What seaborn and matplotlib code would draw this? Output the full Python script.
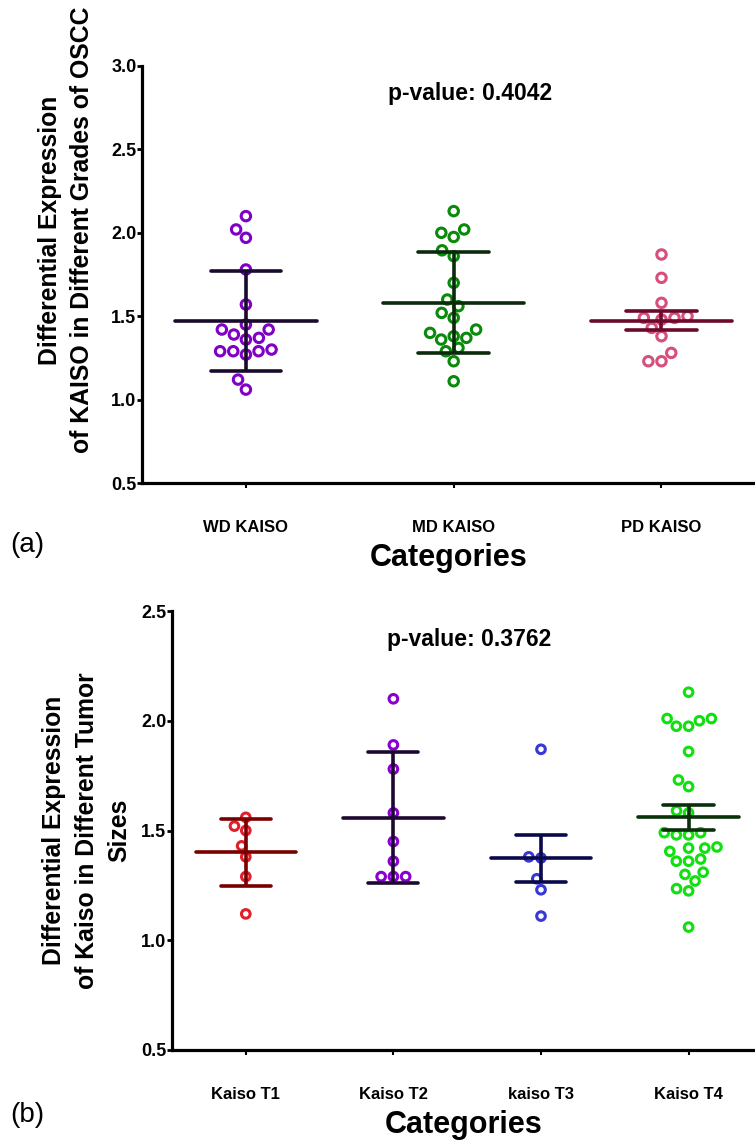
import numpy as np
import pandas as pd
import matplotlib
matplotlib.use("Agg")
import matplotlib.pyplot as plt
import seaborn as sns

sns.set_theme(style="ticks")
plt.rcParams['font.family'] = ['Liberation Sans', 'DejaVu Sans']
plt.rcParams.update({"text.color": "black", "axes.labelcolor": "black",
                     "xtick.color": "black", "ytick.color": "black"})

# ---------------- data: panel (a) grades ----------------
grade_cats = ["WD KAISO", "MD KAISO", "PD KAISO"]
wd_vals = [2.10, 2.02, 1.97, 1.78, 1.57, 1.45, 1.42, 1.42, 1.39, 1.36, 1.37,
           1.29, 1.29, 1.27, 1.29, 1.30, 1.12, 1.06]
md_vals = [2.13, 2.00, 1.975, 2.02, 1.895, 1.86, 1.70, 1.60, 1.56, 1.52, 1.49,
           1.42, 1.38, 1.36, 1.37, 1.40, 1.29, 1.31, 1.23, 1.11]
pd_vals = [1.87, 1.73, 1.58, 1.49, 1.49, 1.48, 1.50, 1.43, 1.38, 1.28, 1.23, 1.23]
grade_err = ["sd", "sd", "se"]
grade_p = "p-value: 0.4042"

# ---------------- data: panel (b) tumor sizes ----------------
size_cats = ["Kaiso T1", "Kaiso T2", "kaiso T3", "Kaiso T4"]
t1_vals = [1.56, 1.52, 1.50, 1.43, 1.38, 1.29, 1.12]
t2_vals = [2.10, 1.89, 1.78, 1.58, 1.45, 1.36, 1.29, 1.29, 1.29]
t3_vals = [1.87, 1.375, 1.38, 1.28, 1.23, 1.11]
t4_vals = [2.13, 2.01, 2.00, 1.975, 1.975, 2.01, 1.86, 1.73, 1.70, 1.59, 1.58,
           1.49, 1.48, 1.48, 1.49, 1.425, 1.405, 1.42, 1.42, 1.36, 1.37, 1.36,
           1.30, 1.31, 1.27, 1.235, 1.225, 1.06]
size_err = ["sd", "sd", "se", "se"]
size_p = "p-value: 0.3762"

# ---------------- styles ----------------
grade_colors = ["#8000C4", "#0A8A0A", "#D6507C"]
grade_line_colors = ["#1A0A2E", "#0B2A0B", "#6B0A2A"]
size_colors = ["#E0202A", "#8A00D2", "#3838D8", "#10E010"]
size_line_colors = ["#7A0000", "#1C0830", "#0A0A4A", "#0A300A"]

W, H = 755, 1143
fig = plt.figure(figsize=(W / 100, H / 100), dpi=100)


def draw_panel(ax, cats, groups, err_types, colors, line_colors, ylim, ptext,
               ptext_x, ylabel, ylabel_xy, marker_size):
    df = pd.DataFrame({
        "cat": np.repeat(cats, [len(g) for g in groups]),
        "val": np.concatenate([np.asarray(g, float) for g in groups]),
    })
    sns.swarmplot(data=df, x="cat", y="val", hue="cat", order=cats,
                  hue_order=cats, palette=colors, size=marker_size,
                  linewidth=2.2, ax=ax, legend=False, zorder=2)
    for coll, col in zip(ax.collections, colors):
        coll.set_edgecolor(col)
        coll.set_facecolor("none")

    for i, (g, et, lc) in enumerate(zip(groups, err_types, line_colors)):
        g = np.asarray(g, float)
        m = g.mean()
        sd = g.std(ddof=1)
        e = sd if et == "sd" else sd / np.sqrt(len(g))
        ax.hlines(m, i - 0.34, i + 0.34, color=lc, lw=2.6, zorder=4,
                  capstyle="round")
        ax.vlines(i, m - e, m + e, color=lc, lw=2.6, zorder=4)
        ax.hlines([m - e, m + e], i - 0.17, i + 0.17, color=lc, lw=2.6,
                  zorder=4, capstyle="round")

    ax.set_ylim(*ylim)
    ax.set_xlim(-0.5, len(cats) - 0.55)
    ticks = np.arange(ylim[0], ylim[1] + 0.01, 0.5)
    ax.set_yticks(ticks)
    ax.set_yticklabels([f"{v:.1f}" for v in ticks], fontweight="bold",
                       fontsize=13)
    ax.set_xticks(range(len(cats)))
    ax.set_xticklabels(cats, fontweight="bold", fontsize=12)
    sns.despine(ax=ax)
    for s in ["left", "bottom"]:
        ax.spines[s].set_linewidth(2.3)
        ax.spines[s].set_color("black")
    ax.tick_params(axis="y", direction="out", length=3.5, width=2, pad=0.5)
    ax.tick_params(axis="x", direction="out", length=3.5, width=1.5, pad=23)
    ax.set_xlabel("Categories", fontsize=22, fontweight="bold", labelpad=6)
    ax.set_ylabel(ylabel, fontsize=17.8, fontweight="bold", linespacing=1.45)
    ax.yaxis.set_label_coords(*ylabel_xy)
    ax.text(ptext_x, 0.935, ptext, transform=ax.transAxes, ha="center",
            va="center", fontsize=16.5, fontweight="bold")
    ax.set_facecolor("white")


ax1 = fig.add_axes([142 / W, 1 - 483 / H, (W - 142) / W, (483 - 66) / H])
draw_panel(ax1, grade_cats, [wd_vals, md_vals, pd_vals], grade_err,
           grade_colors, grade_line_colors, (0.5, 3.0), grade_p, 0.535,
           "Differential Expression\nof KAISO in Different Grades of OSCC",
           (-0.078, 0.607), 6.8)

ax2 = fig.add_axes([172 / W, 1 - 1050 / H, (W - 172) / W, (1050 - 611) / H])
draw_panel(ax2, size_cats, [t1_vals, t2_vals, t3_vals, t4_vals], size_err,
           size_colors, size_line_colors, (0.5, 2.5), size_p, 0.51,
           "Differential Expression\nof Kaiso in Different Tumor\nSizes",
           (-0.070, 0.5), 6.2)

fig.text(10 / W, 1 - 545 / H, "(a)", fontsize=20, ha="left", va="center")
fig.text(10 / W, 1 - 1115 / H, "(b)", fontsize=20, ha="left", va="center")

fig.savefig("out.png", dpi=100, facecolor="white")
